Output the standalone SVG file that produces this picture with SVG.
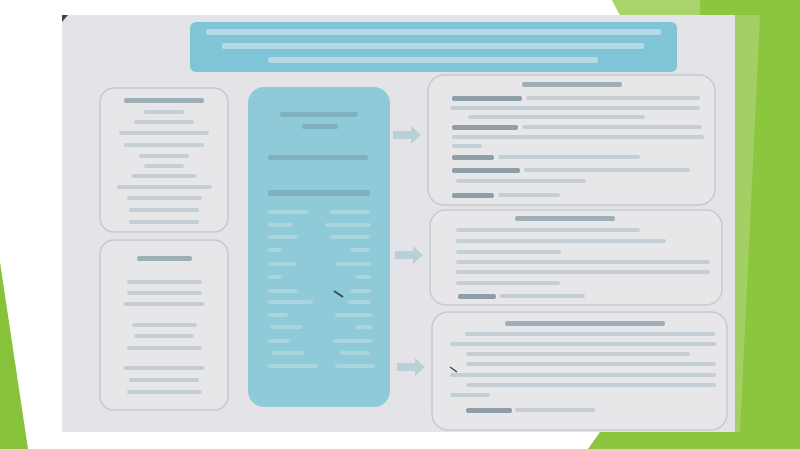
<svg xmlns="http://www.w3.org/2000/svg" width="800" height="449" viewBox="0 0 800 449">
<style>
.box{fill:#e7e7ea;stroke:#c6cacd;stroke-width:1.5}
.ln{fill:#c3cfd4}
.hd{fill:#9eaeb6}
.bd{fill:#8d9ea8}
.tl{fill:#b4dbe5}
.cl{fill:#aad4de}
.ch{fill:#7fb0bf}
.arr{fill:#b9d0d8}
</style>
<rect width="800" height="449" fill="#ffffff"/>
<polygon points="612,0 800,0 800,449 588,449 600,432 735,432 735,15 620,15" fill="#8cc63f"/>
<polygon points="612,0 700,0 700,15 620,15" fill="#a9d46b"/>
<polygon points="735,15 760,15 740,432 735,432" fill="#a3d064"/>
<polygon points="0,262 28,449 0,449" fill="#86c23a"/>
<rect x="62" y="15" width="673" height="417" fill="#e4e3e8"/>
<polygon points="62,15 68,15 62,22" fill="#444"/>
<g id="title">
<rect x="190" y="22" width="487" height="50" rx="6" fill="#80c5d7"/>
<rect class="tl" x="206" y="29" width="455" height="6" rx="2"/>
<rect class="tl" x="222" y="43" width="422" height="6" rx="2"/>
<rect class="tl" x="268" y="57" width="330" height="6" rx="2"/>
</g>
<g id="left-top">
<rect class="box" x="100" y="88" width="128" height="144" rx="14"/>
<rect class="hd" x="124" y="98" width="80" height="5" rx="2"/>
<rect class="ln" x="144" y="110" width="40" height="4" rx="2"/>
<rect class="ln" x="134" y="120" width="60" height="4" rx="2"/>
<rect class="ln" x="119" y="131" width="90" height="4" rx="2"/>
<rect class="ln" x="124" y="143" width="80" height="4" rx="2"/>
<rect class="ln" x="139" y="154" width="50" height="4" rx="2"/>
<rect class="ln" x="144" y="164" width="40" height="4" rx="2"/>
<rect class="ln" x="132" y="174" width="65" height="4" rx="2"/>
<rect class="ln" x="117" y="185" width="95" height="4" rx="2"/>
<rect class="ln" x="127" y="196" width="75" height="4" rx="2"/>
<rect class="ln" x="129" y="208" width="70" height="4" rx="2"/>
<rect class="ln" x="129" y="220" width="70" height="4" rx="2"/>
</g>
<g id="left-bottom">
<rect class="box" x="100" y="240" width="128" height="170" rx="14"/>
<rect class="hd" x="137" y="256" width="55" height="5" rx="2"/>
<rect class="ln" x="127" y="280" width="75" height="4" rx="2"/>
<rect class="ln" x="127" y="291" width="75" height="4" rx="2"/>
<rect class="ln" x="124" y="302" width="80" height="4" rx="2"/>
<rect class="ln" x="132" y="323" width="65" height="4" rx="2"/>
<rect class="ln" x="134" y="334" width="60" height="4" rx="2"/>
<rect class="ln" x="127" y="346" width="75" height="4" rx="2"/>
<rect class="ln" x="124" y="366" width="80" height="4" rx="2"/>
<rect class="ln" x="129" y="378" width="70" height="4" rx="2"/>
<rect class="ln" x="127" y="390" width="75" height="4" rx="2"/>
</g>
<g id="center">
<rect x="248" y="87" width="142" height="320" rx="16" fill="#8fcad8"/>
<rect class="ch" x="280" y="112" width="78" height="5" rx="2"/>
<rect class="ch" x="302" y="124" width="36" height="5" rx="2"/>
<rect class="ch" x="268" y="155" width="100" height="5" rx="2"/>
<rect class="ch" x="268" y="190" width="102" height="6" rx="2"/>
<g class="cl">
<rect x="268" y="210" width="40" height="4" rx="2"/><rect x="330" y="210" width="40" height="4" rx="2"/>
<rect x="268" y="223" width="25" height="4" rx="2"/><rect x="325" y="223" width="46" height="4" rx="2"/>
<rect x="268" y="235" width="30" height="4" rx="2"/><rect x="330" y="235" width="40" height="4" rx="2"/>
<rect x="268" y="248" width="14" height="4" rx="2"/><rect x="350" y="248" width="20" height="4" rx="2"/>
<rect x="268" y="262" width="28" height="4" rx="2"/><rect x="335" y="262" width="36" height="4" rx="2"/>
<rect x="268" y="275" width="14" height="4" rx="2"/><rect x="355" y="275" width="16" height="4" rx="2"/>
<rect x="268" y="289" width="30" height="4" rx="2"/><rect x="350" y="289" width="21" height="4" rx="2"/>
<rect x="268" y="300" width="45" height="4" rx="2"/><rect x="348" y="300" width="23" height="4" rx="2"/>
<rect x="268" y="313" width="20" height="4" rx="2"/><rect x="335" y="313" width="38" height="4" rx="2"/>
<rect x="270" y="325" width="32" height="4" rx="2"/><rect x="355" y="325" width="18" height="4" rx="2"/>
<rect x="268" y="339" width="22" height="4" rx="2"/><rect x="333" y="339" width="40" height="4" rx="2"/>
<rect x="272" y="351" width="32" height="4" rx="2"/><rect x="340" y="351" width="30" height="4" rx="2"/>
<rect x="268" y="364" width="50" height="4" rx="2"/><rect x="335" y="364" width="40" height="4" rx="2"/>
</g>
<path d="M334,291 L343,297" stroke="#3d4a55" stroke-width="2" fill="none"/>
</g>
<g id="connectors">
<path class="arr" d="M393,131 h18 v-5 l10,9 l-10,9 v-5 h-18 z"/>
<path class="arr" d="M395,251 h18 v-5 l10,9 l-10,9 v-5 h-18 z"/>
<path class="arr" d="M397,363 h18 v-5 l10,9 l-10,9 v-5 h-18 z"/>
</g>
<g id="right-1">
<rect class="box" x="428" y="75" width="287" height="130" rx="16"/>
<rect class="hd" x="522" y="82" width="100" height="5" rx="2"/>
<rect class="bd" x="452" y="96" width="70" height="5" rx="2"/><rect class="ln" x="526" y="96" width="174" height="4" rx="2"/>
<rect class="ln" x="450" y="106" width="250" height="4" rx="2"/>
<rect class="ln" x="468" y="115" width="177" height="4" rx="2"/>
<rect class="bd" x="452" y="125" width="66" height="5" rx="2"/><rect class="ln" x="522" y="125" width="180" height="4" rx="2"/>
<rect class="ln" x="452" y="135" width="252" height="4" rx="2"/>
<rect class="ln" x="452" y="144" width="30" height="4" rx="2"/>
<rect class="bd" x="452" y="155" width="42" height="5" rx="2"/><rect class="ln" x="498" y="155" width="142" height="4" rx="2"/>
<rect class="bd" x="452" y="168" width="68" height="5" rx="2"/><rect class="ln" x="524" y="168" width="166" height="4" rx="2"/>
<rect class="ln" x="456" y="179" width="130" height="4" rx="2"/>
<rect class="bd" x="452" y="193" width="42" height="5" rx="2"/><rect class="ln" x="498" y="193" width="62" height="4" rx="2"/>
</g>
<g id="right-2">
<rect class="box" x="430" y="210" width="292" height="95" rx="16"/>
<rect class="hd" x="515" y="216" width="100" height="5" rx="2"/>
<rect class="ln" x="456" y="228" width="184" height="4" rx="2"/>
<rect class="ln" x="456" y="239" width="210" height="4" rx="2"/>
<rect class="ln" x="456" y="250" width="105" height="4" rx="2"/>
<rect class="ln" x="456" y="260" width="254" height="4" rx="2"/>
<rect class="ln" x="456" y="270" width="254" height="4" rx="2"/>
<rect class="ln" x="456" y="281" width="104" height="4" rx="2"/>
<rect class="bd" x="458" y="294" width="38" height="5" rx="2"/><rect class="ln" x="500" y="294" width="85" height="4" rx="2"/>
</g>
<g id="right-3">
<rect class="box" x="432" y="312" width="295" height="118" rx="16"/>
<rect class="hd" x="505" y="321" width="160" height="5" rx="2"/>
<rect class="ln" x="465" y="332" width="250" height="4" rx="2"/>
<rect class="ln" x="450" y="342" width="266" height="4" rx="2"/>
<rect class="ln" x="466" y="352" width="224" height="4" rx="2"/>
<rect class="ln" x="466" y="362" width="250" height="4" rx="2"/>
<rect class="ln" x="450" y="373" width="266" height="4" rx="2"/>
<rect class="ln" x="466" y="383" width="250" height="4" rx="2"/>
<rect class="ln" x="450" y="393" width="40" height="4" rx="2"/>
<rect class="bd" x="466" y="408" width="46" height="5" rx="2"/><rect class="ln" x="515" y="408" width="80" height="4" rx="2"/>
<path d="M450,367 L457,372" stroke="#3d4a55" stroke-width="1.5" fill="none"/>
</g>
</svg>
